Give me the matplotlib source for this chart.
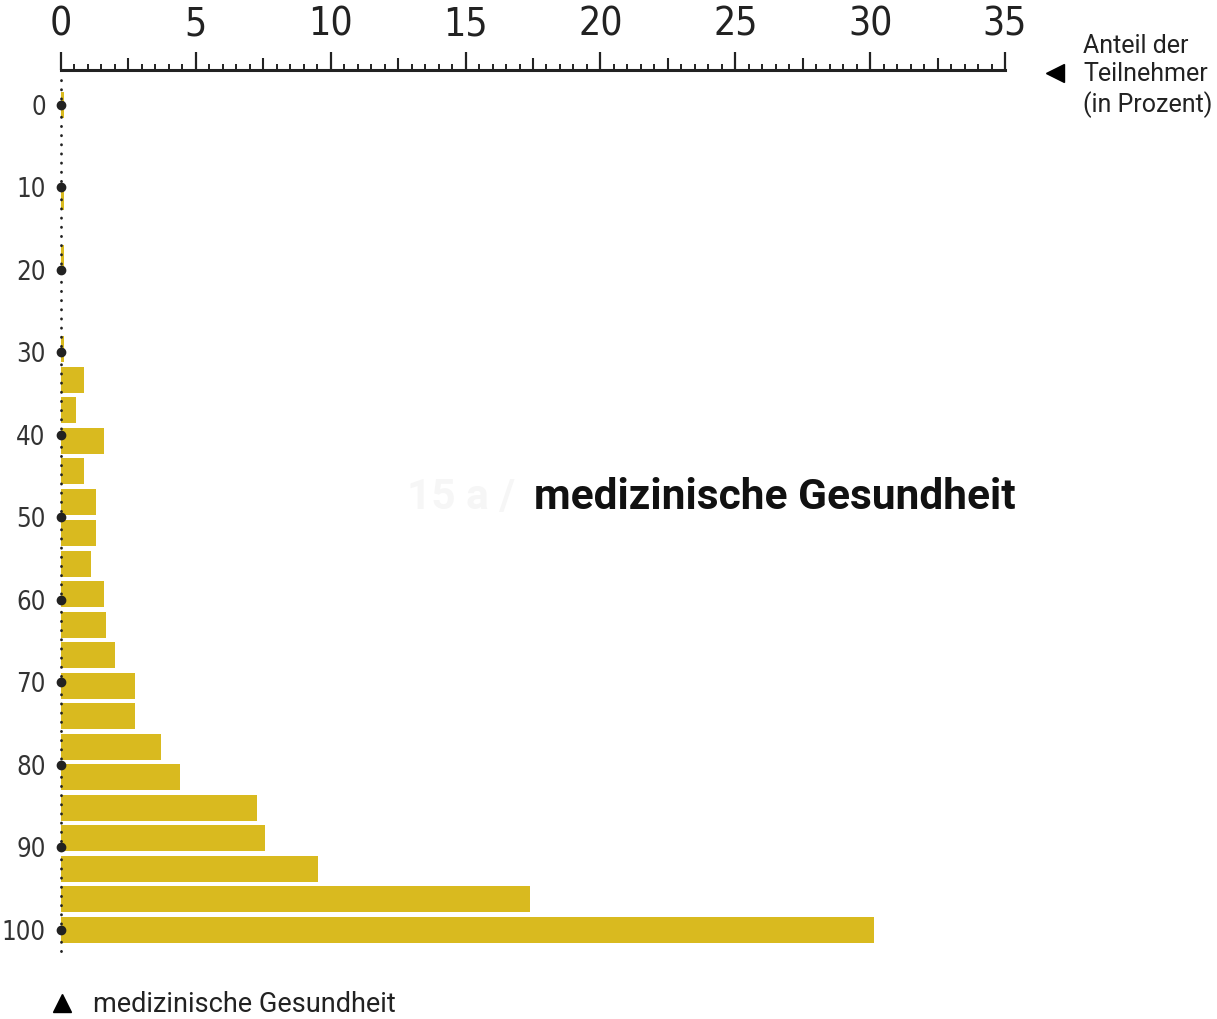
import matplotlib
matplotlib.use('Agg')
import matplotlib.pyplot as plt
from matplotlib import font_manager
from matplotlib.ticker import MultipleLocator

# Skalenwert (0-100) und Anteil der Teilnehmer in Prozent
stufen = [0, 3.7, 7.4, 11.1, 14.8, 18.5, 22.2, 25.9, 29.6, 33.3, 37.0, 40.7,
          44.4, 48.1, 51.9, 55.6, 59.3, 63.0, 66.7, 70.4, 74.1, 77.8, 81.5,
          85.2, 88.9, 92.6, 96.3, 100]
anteil = [0.1, 0, 0, 0.1, 0, 0.1, 0, 0, 0.1,
          0.85, 0.56, 1.58, 0.85, 1.28, 1.28, 1.11, 1.58, 1.68, 2.02,
          2.74, 2.74, 3.69, 4.42, 7.26, 7.56, 9.53, 17.4, 30.15]
y_ticks = list(range(0, 101, 10))
x_major = list(range(0, 36, 5))
x_mid = [2.5, 7.5, 12.5, 17.5, 22.5, 27.5, 32.5]
titel = 'medizinische Gesundheit'
achsen_text = 'Anteil der\nTeilnehmer\n(in Prozent)'

W, H = 1217, 1019
gelb = '#D9BA1F'
dunkel = '#222222'

# schmale Schrift fuer die Skalen suchen, falls vorhanden
schmal = None
for f in font_manager.fontManager.ttflist:
    if f.weight in (400, 'normal', 'regular') and f.style == 'normal' and \
            ('Narrow' in f.name or 'Condensed' in f.name or f.stretch == 'condensed'):
        schmal = font_manager.FontProperties(fname=f.fname)
        break
if schmal is None:
    schmal = font_manager.FontProperties(family='DejaVu Sans')

fig = plt.figure(figsize=(W / 100, H / 100), dpi=100)
ax = fig.add_axes([61 / W, 1 - 958 / H, (1005 - 61) / W, (958 - 70) / H])

ax.barh(stufen, anteil, height=3.15, color=gelb, edgecolor='none', zorder=2)

# gepunktete Nulllinie und Punkte an den Skalenwerten
ax.plot([0, 0], [-3.0, 103.4], color=dunkel, lw=2, ls=(0, (0.1, 3.2)),
        dash_capstyle='round', zorder=3, clip_on=False)
ax.plot([0] * len(y_ticks), y_ticks, 'o', color=dunkel, ms=6, zorder=4, clip_on=False)

ax.set_xlim(0, 35)
ax.set_ylim(103.4, -4.24)

for s in ['left', 'right', 'bottom']:
    ax.spines[s].set_visible(False)
ax.spines['top'].set_linewidth(2.2)
ax.spines['top'].set_color(dunkel)

ax.xaxis.tick_top()
ax.set_xticks(x_major)
ax.xaxis.set_minor_locator(MultipleLocator(0.5))
ax.tick_params(axis='x', which='major', length=13, width=1.6, color=dunkel,
               pad=6, labelcolor=dunkel)
ax.tick_params(axis='x', which='minor', length=4.5, width=1.4, color=dunkel)
for lab in ax.get_xticklabels():
    lab.set_fontproperties(schmal)
    lab.set_fontsize(28)

sec = ax.secondary_xaxis('top')
sec.set_xticks(x_mid)
sec.tick_params(axis='x', length=8.5, width=1.5, color=dunkel, labeltop=False)
for s in sec.spines.values():
    s.set_visible(False)

ax.set_yticks(y_ticks)
ax.tick_params(axis='y', length=0, pad=11, labelcolor='#333333')
for lab in ax.get_yticklabels():
    lab.set_fontproperties(schmal)
    lab.set_fontsize(18.5)

# Beschriftung rechts oben
fig.text(1083 / W, 1 - 76 / H, achsen_text, ha='left', va='center',
         fontsize=18, linespacing=1.25, color=dunkel, family='Roboto')
ax.plot([1055 / W], [1 - 73 / H], marker='<', ms=13, color='black',
        transform=fig.transFigure, clip_on=False)

# Titel in der Mitte
fig.text(515 / W, 1 - 497 / H, '15 a /', ha='right', va='center',
         fontsize=30.5, fontweight='bold', color='#f6f6f6', family='Roboto')
fig.text(534 / W, 1 - 497 / H, titel, ha='left', va='center',
         fontsize=30.5, fontweight='bold', color='#111111', family='Roboto')

# Legende unten
ax.plot([62 / W], [1 - 1003 / H], marker='^', ms=13, color='black',
        transform=fig.transFigure, clip_on=False)
fig.text(93 / W, 1 - 1004 / H, titel, ha='left', va='center',
         fontsize=19.5, color=dunkel, family='Roboto')

fig.savefig('out.png', dpi=100)
